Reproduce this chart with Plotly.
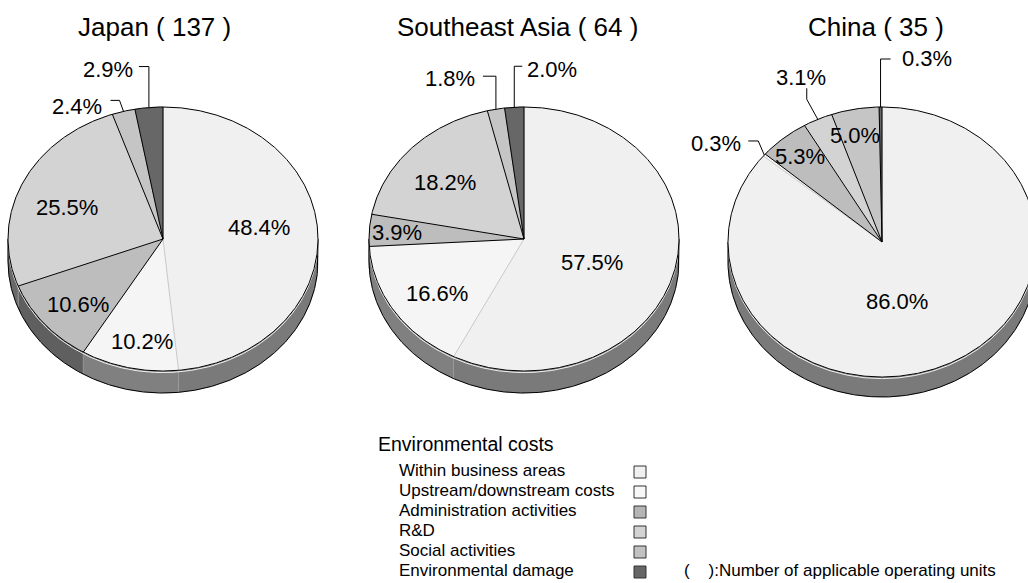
import numpy as np
import plotly.graph_objects as go

# ---------------- data ----------------
categories = ["Within business areas", "Upstream/downstream costs",
              "Administration activities", "R&D", "Social activities",
              "Environmental damage"]
regions = ["Japan", "Southeast Asia", "China"]
units = [137, 64, 35]
japan = [48.4, 10.2, 10.6, 25.5, 2.4, 2.9]
southeast_asia = [57.5, 16.6, 3.9, 18.2, 1.8, 2.0]
china = [86.0, 0.3, 5.3, 3.1, 5.0, 0.3]
legend_title = "Environmental costs"
note_text = "(    ):Number of applicable operating units"

values = [japan, southeast_asia, china]

# ---------------- style ----------------
FONT = "Liberation Sans, Arial, sans-serif"
top_colors = ["#f0f0f0", "#f5f5f5", "#bdbdbd", "#d3d3d3", "#c5c5c5", "#676767"]
side_colors = ["#7a7a7a", "#808080", "#5f5f5f", "#6a6a6a", "#666666", "#4a4a4a"]
legend_colors = ["#f0f0f0", "#f7f7f7", "#b5b5b5", "#d3d3d3", "#c2c2c2", "#666666"]
geom = [dict(cx=163, cy=239, rx=155, ry=132, d=22),
        dict(cx=524, cy=239, rx=155, ry=132, d=22),
        dict(cx=882, cy=242, rx=154, ry=135, d=20)]
title_pos = [(154, 27), (517, 27), (876, 27)]

# inside labels: category index -> (radial fraction, dx, dy)
inside_labels = [
    {0: (0.617, 0, -7), 1: (0.797, 6, 0), 2: (0.713, 0, 5), 3: (0.686, 0, 7)},
    {0: (0.449, 0, 10), 1: (0.672, 0, 6), 2: (0.823, 0, 1), 3: (0.704, 0, 8)},
    {0: (0.489, -17, 0), 2: (0.832, 0, 1), 4: (0.805, -5, 0)},
]
# outside labels: category index -> (leader path offsets, text offset, anchor)
outside_labels = [
    {5: ([(0, 0), (0, -41), (-10, -41)], (-14, -38), "right"),
     4: ([(0, 0), (-4, -11), (-13, -11)], (-20, -5), "right")},
    {5: ([(0, 0), (0, -41), (8, -41)], (11, -38), "left"),
     4: ([(0, 0), (0, -33), (-13, -33)], (-19, -31), "right")},
    {5: ([(0, 0), (0, -48), (10, -48)], (19, -49), "left"),
     3: ([(0, 0), (-11, -20), (-11, -31)], (-17, -42), "center"),
     1: ([(0, 0), (-6, -14), (-16, -14)], (-21, -11.5), "right")},
]

legend_x_text_head = 376
legend_x_text = 397
legend_x_box = 640
legend_y_head = 444
legend_y_rows = 470
legend_dy = 20


def pt(g, theta, f=1.0):
    t = np.radians(theta)
    return g["cx"] + f * g["rx"] * np.sin(t), g["cy"] - f * g["ry"] * np.cos(t)


def arc(g, a, b, f=1.0, dy=0.0):
    n = max(int(abs(b - a) * 2) + 2, 3)
    th = np.linspace(a, b, n)
    x, y = pt(g, th, f)
    return list(x), list(y + dy)


fig = go.Figure()
annotations = []


def add_line(xs, ys, color="black", width=1.0):
    fig.add_trace(go.Scatter(x=xs, y=ys, mode="lines",
                             line=dict(color=color, width=width),
                             hoverinfo="skip"))


for r, vals in enumerate(values):
    g = geom[r]
    total = sum(vals)
    cum = np.concatenate([[0], np.cumsum(vals)]) / total * 360.0

    # ---- sides (visible lower half: 90..270 deg) ----
    for i in range(len(vals)):
        a, b = max(cum[i], 90), min(cum[i + 1], 270)
        if a < b:
            xt, yt = arc(g, a, b)
            xb, yb = arc(g, b, a, dy=g["d"])
            fig.add_trace(go.Scatter(x=xt + xb + [xt[0]], y=yt + yb + [yt[0]],
                                     mode="lines", fill="toself",
                                     fillcolor=side_colors[i],
                                     line=dict(color=side_colors[i], width=0.5),
                                     hoverinfo="skip"))
    # boundaries on side
    for k in range(1, len(vals)):
        if 90 < cum[k] < 270:
            x0, y0 = pt(g, cum[k])
            add_line([x0, x0], [y0, y0 + g["d"]], color="#a0a0a0", width=0.8)
    # white highlight under the rim
    xh, yh = arc(g, 92, 268, dy=1.6)
    add_line(xh, yh, color="white", width=0.9)
    # side outline
    xb, yb = arc(g, 90, 270, dy=g["d"])
    x90, y90 = pt(g, 90)
    x270, y270 = pt(g, 270)
    add_line([x90] + xb + [x270], [y90] + yb + [y270], color="black", width=1)

    # ---- top face slices ----
    for i in range(len(vals)):
        xa, ya = arc(g, cum[i], cum[i + 1])
        fig.add_trace(go.Scatter(x=[g["cx"]] + xa + [g["cx"]],
                                 y=[g["cy"]] + ya + [g["cy"]],
                                 mode="lines", fill="toself",
                                 fillcolor=top_colors[i],
                                 line=dict(color=top_colors[i], width=0.5),
                                 hoverinfo="skip"))
    # radial boundaries
    for k in range(len(vals)):
        x1, y1 = pt(g, cum[k])
        col = "#c8c8c8" if k == 1 else "black"
        add_line([g["cx"], x1], [g["cy"], y1], color=col, width=1)
    # rim
    xr, yr = arc(g, 0, 360)
    add_line(xr, yr, color="black", width=1)

    # ---- labels ----
    for i, v in enumerate(vals):
        mid = (cum[i] + cum[i + 1]) / 2
        txt = f"{v:.1f}%"
        if i in inside_labels[r]:
            f, dx, dy = inside_labels[r][i]
            x, y = pt(g, mid, f)
            annotations.append(dict(x=x + dx, y=y + dy, text=txt, showarrow=False,
                                    xanchor="center", yanchor="middle",
                                    font=dict(family=FONT, size=22, color="black")))
        elif i in outside_labels[r]:
            path, (tx, ty), anc = outside_labels[r][i]
            x, y = pt(g, mid)
            add_line([x + p[0] for p in path], [y + p[1] for p in path],
                     color="black", width=1)
            annotations.append(dict(x=x + tx, y=y + ty, text=txt, showarrow=False,
                                    xanchor=anc, yanchor="middle",
                                    font=dict(family=FONT, size=22, color="black")))

    # title
    annotations.append(dict(x=title_pos[r][0], y=title_pos[r][1],
                            text=f"{regions[r]} ( {units[r]} )", showarrow=False,
                            xanchor="center", yanchor="middle",
                            font=dict(family=FONT, size=26, color="black")))

# ---------------- legend ----------------
annotations.append(dict(x=legend_x_text_head, y=legend_y_head, text=legend_title,
                        showarrow=False, xanchor="left", yanchor="middle",
                        font=dict(family=FONT, size=19.5, color="black")))
row_y = [legend_y_rows + k * legend_dy for k in range(len(categories))]
for k, c in enumerate(categories):
    annotations.append(dict(x=legend_x_text, y=row_y[k], text=c, showarrow=False,
                            xanchor="left", yanchor="middle",
                            font=dict(family=FONT, size=17, color="black")))
fig.add_trace(go.Scatter(x=[legend_x_box] * len(categories), y=[y + 2 for y in row_y],
                         mode="markers",
                         marker=dict(symbol="square", size=12, color=legend_colors,
                                     line=dict(color="#333333", width=1)),
                         hoverinfo="skip"))
annotations.append(dict(x=682, y=row_y[-1], text=note_text, showarrow=False,
                        xanchor="left", yanchor="middle",
                        font=dict(family=FONT, size=17, color="black")))

fig.update_layout(
    width=1028, height=583, autosize=False,
    margin=dict(l=0, r=0, t=0, b=0),
    paper_bgcolor="white", plot_bgcolor="white",
    showlegend=False,
    xaxis=dict(range=[0, 1028], visible=False, fixedrange=True),
    yaxis=dict(range=[583, 0], visible=False, fixedrange=True),
    annotations=annotations,
)
fig.write_html("out.html")
